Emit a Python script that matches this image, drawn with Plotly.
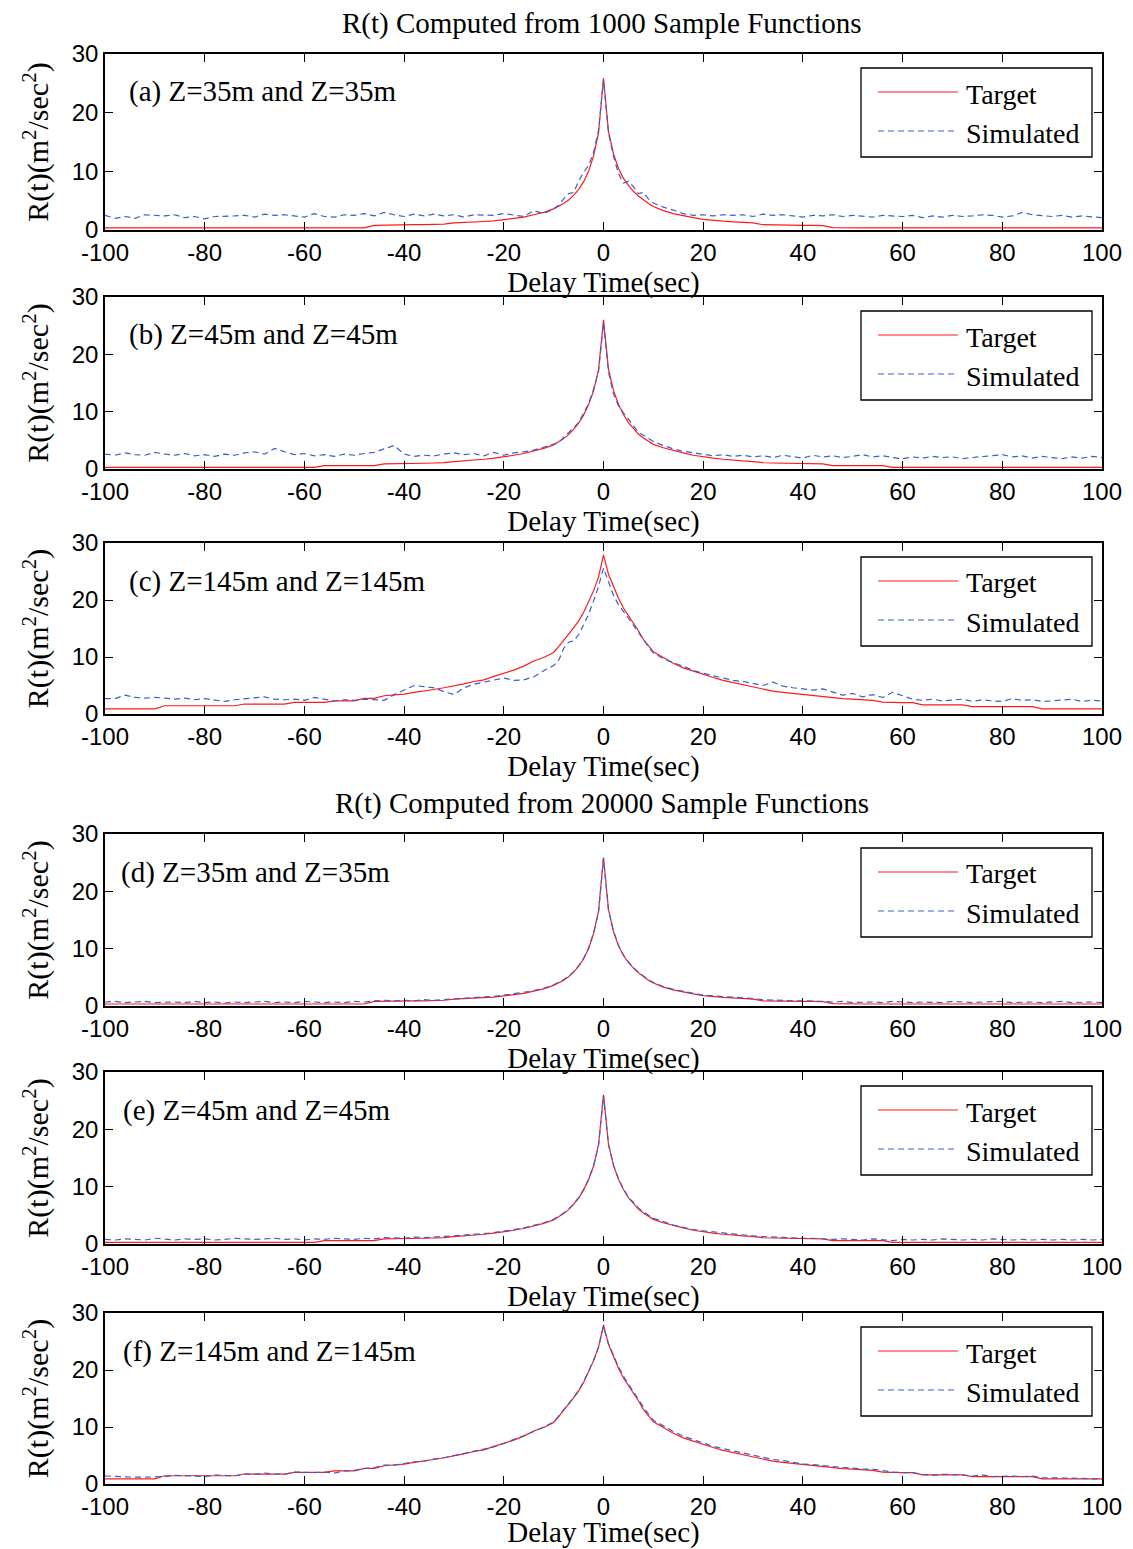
import plotly.graph_objects as go

W, H = 1133, 1549

# ---------------- data ----------------
t_left = list(range(-100, -11, 2))      # -100 ... -12
t_mid = list(range(-10, 11))            # -10 ... 10
t_right = list(range(12, 101, 2))       # 12 ... 100
delay_time = t_left + t_mid + t_right

target_35 = (
    [0.35] * 27 +
    [0.8, 0.85, 0.85, 0.85, 0.9, 0.9, 0.95, 1.0, 1.2, 1.25, 1.3, 1.45, 1.55, 1.8, 2.0, 2.2, 2.6, 3.0] +
    [3.6, 4.0, 4.5, 5.1, 5.9, 6.9, 8.2, 10.0, 12.6, 16.5, 25.9, 16.8, 13.0, 10.5, 8.8, 7.6, 6.6, 5.8, 5.1, 4.5, 4.0] +
    [3.3, 2.8, 2.4, 2.1, 1.8, 1.6, 1.5, 1.4, 1.3, 1.2, 0.9, 0.85, 0.85, 0.8, 0.8, 0.8, 0.75, 0.4] +
    [0.35] * 27
)

target_45 = (
    [0.3] * 22 + [0.6] * 6 +
    [0.9, 0.9, 0.95, 1.0, 1.0, 1.05, 1.1, 1.3, 1.4, 1.5, 1.7, 1.9, 2.1, 2.4, 2.7, 3.1, 3.6] +
    [4.2, 4.7, 5.3, 6.0, 6.9, 8.0, 9.4, 11.2, 13.6, 17.3, 26.0, 17.4, 13.7, 11.3, 9.5, 8.1, 7.0, 6.1, 5.4, 4.8, 4.3] +
    [3.7, 3.2, 2.8, 2.4, 2.1, 1.9, 1.7, 1.5, 1.4, 1.3, 1.1, 1.05, 1.0, 1.0, 0.95, 0.9, 0.9,
     0.6, 0.6, 0.6, 0.6, 0.6, 0.6] +
    [0.3] * 22
)

target_145 = (
    [0.9] * 6 + [1.45] * 8 + [1.75] * 5 + [2.05] * 4 + [2.3] * 3 + [2.75] * 2 +
    [3.2, 3.3, 3.5, 3.8, 4.0, 4.3, 4.6, 4.9, 5.3, 5.7, 6.0, 6.6, 7.1, 7.7, 8.4, 9.3, 9.9] +
    [10.8, 11.8, 13.0, 14.0, 15.1, 16.3, 17.8, 19.6, 21.6, 24.0, 27.9, 24.5, 22.3, 20.3, 18.6, 17.3, 16.0, 14.6, 13.1, 11.9, 10.9] +
    [9.9, 8.9, 8.1, 7.5, 6.9, 6.4, 5.9, 5.5, 5.1, 4.7, 4.3, 4.0, 3.8, 3.6] +
    [3.4, 3.2, 3.0, 2.9, 2.7, 2.6, 2.5, 2.4, 2.1, 2.0, 2.0, 2.0] +
    [1.6] * 5 + [1.3] * 7 + [0.9] * 7
)

sim_a = [
    2.5, 2.0, 2.3, 2.0, 2.6, 2.5, 2.4, 2.6, 2.1, 2.3,
    1.9, 2.3, 2.3, 2.4, 2.5, 2.2, 2.7, 2.5, 2.6, 2.4,
    2.2, 2.8, 2.3, 2.2, 2.6, 2.5, 2.8, 2.4, 3.0, 2.6,
    2.3, 2.7, 2.4, 2.7, 2.4, 2.6, 2.2, 2.6, 2.6, 2.5,
    2.8, 2.5, 2.3, 3.3, 2.8,
    3.6, 4.2, 5.3, 6.2, 6.4, 8.3, 9.8, 11.0, 13.2, 17.0, 25.6, 16.5, 12.6, 9.6, 8.0, 8.3, 7.4, 6.2, 6.4, 5.3, 4.6,
    3.9, 3.4, 2.8, 2.5, 2.6, 2.4, 2.6, 2.5, 2.6, 2.3,
    2.7, 2.5, 2.6, 2.4, 2.2, 2.5, 2.4, 2.6, 2.3, 2.5,
    2.4, 2.2, 2.5, 2.4, 2.3, 2.5, 2.1, 2.4, 2.2, 2.5,
    2.3, 2.4, 2.6, 2.5, 2.2, 2.4, 3.0, 2.6, 2.4, 2.3,
    2.5, 2.2, 2.4, 2.3, 2.1,
]

sim_b = [
    2.6, 2.4, 2.8, 2.5, 2.4, 2.9, 2.6, 2.4, 2.7, 2.3,
    2.5, 2.2, 2.6, 2.4, 2.8, 3.0, 2.6, 3.6, 3.0, 2.5,
    2.7, 2.3, 2.5, 2.2, 2.6, 2.4, 2.7, 2.9, 3.5, 4.1,
    2.6, 2.2, 2.4, 2.3, 2.6, 2.8, 2.5, 2.7, 2.3, 2.9,
    2.4, 2.8, 3.0, 3.3, 3.8,
    4.4, 4.6, 5.5, 6.3, 7.2, 8.1, 9.8, 11.4, 13.9, 17.0, 25.5, 16.9, 13.1, 11.0, 9.8, 8.6, 7.6, 6.4, 5.9, 5.4, 4.8,
    4.1, 3.5, 3.1, 2.8, 2.6, 2.3, 2.5, 2.2, 2.4, 2.1,
    2.3, 2.0, 2.4, 2.2, 1.9, 2.4, 2.1, 2.3, 2.0, 2.2,
    2.5, 2.1, 2.3, 2.0, 1.8, 2.1, 1.9, 2.2, 2.0, 2.1,
    1.8, 2.0, 2.2, 2.4, 2.5, 2.1, 2.3, 1.9, 2.2, 2.0,
    1.8, 2.1, 1.9, 2.2, 2.0,
]

sim_c = [
    2.7, 2.7, 3.3, 2.9, 2.8, 2.9, 2.8, 2.6, 2.8, 2.5,
    2.7, 2.4, 2.2, 2.5, 2.7, 2.8, 3.0, 2.6, 2.5, 2.6,
    2.4, 2.9, 2.6, 2.3, 2.5, 2.4, 2.6, 2.5, 2.4, 3.4,
    4.2, 5.0, 4.8, 4.6, 3.9, 3.4, 4.6, 5.2, 5.6, 6.0,
    6.3, 5.9, 6.0, 6.5, 7.6,
    8.5, 9.4, 11.5, 12.6, 12.8, 13.9, 15.6, 17.5, 19.8, 22.4, 25.6, 23.0, 20.8, 19.2, 17.9, 16.8, 15.6, 14.3, 13.0, 11.8, 10.7,
    9.7, 9.0, 8.4, 7.6, 7.1, 6.7, 6.3, 5.9, 5.7, 5.4,
    5.0, 5.6, 4.9, 4.6, 4.4, 4.2, 4.4, 3.8, 3.3, 3.6,
    3.0, 3.4, 2.9, 3.8, 3.2, 2.6, 2.4, 2.6, 2.3, 2.5,
    2.6, 2.2, 2.5, 2.3, 2.2, 2.7, 2.4, 2.5, 2.2, 2.3,
    2.5, 2.6, 2.2, 2.4, 2.3,
]

sim_d = [
    0.7, 0.8, 0.6, 0.7, 0.8, 0.6, 0.7, 0.7, 0.6, 0.8,
    0.6, 0.7, 0.5, 0.7, 0.6, 0.7, 0.8, 0.6, 0.7, 0.6,
    0.8, 0.7, 0.6, 0.7, 0.6, 0.8, 0.7, 0.9, 1.0, 0.9,
    1.0, 0.9, 1.1, 1.0, 1.1, 1.3, 1.3, 1.4, 1.5, 1.7,
    1.9, 2.1, 2.4, 2.7, 3.1,
    3.7, 4.1, 4.6, 5.2, 6.0, 7.0, 8.3, 10.1, 12.7, 16.4, 25.7, 16.7, 13.1, 10.6, 8.9, 7.7, 6.7, 5.9, 5.2, 4.6, 4.1,
    3.4, 2.9, 2.5, 2.2, 1.9, 1.8, 1.6, 1.5, 1.4, 1.3,
    1.1, 1.0, 1.0, 0.9, 0.9, 0.9, 0.8, 0.7, 0.8, 0.6,
    0.7, 0.7, 0.6, 0.8, 0.7, 0.6, 0.7, 0.7, 0.6, 0.8,
    0.7, 0.6, 0.7, 0.7, 0.8, 0.6, 0.7, 0.7, 0.6, 0.7,
    0.8, 0.6, 0.7, 0.7, 0.6,
]

sim_e = [
    0.8, 0.7, 0.9, 0.8, 0.7, 1.0, 0.8, 0.7, 0.9, 0.8,
    0.9, 0.7, 0.8, 1.0, 0.9, 0.8, 0.9, 1.0, 0.8, 0.9,
    0.7, 0.9, 0.8, 1.0, 0.9, 0.8, 1.0, 0.9, 1.1, 1.1,
    1.0, 1.2, 1.1, 1.2, 1.3, 1.4, 1.5, 1.6, 1.8, 2.0,
    2.2, 2.5, 2.8, 3.2, 3.7,
    4.3, 4.8, 5.4, 6.1, 7.0, 8.1, 9.5, 11.3, 13.6, 17.2, 25.9, 17.3, 13.8, 11.4, 9.6, 8.2, 7.2, 6.3, 5.6, 5.0, 4.5,
    3.9, 3.3, 2.9, 2.5, 2.3, 2.1, 1.9, 1.7, 1.5, 1.4,
    1.3, 1.2, 1.1, 1.1, 1.0, 1.0, 0.9, 0.8, 0.9, 0.8,
    0.7, 0.9, 0.8, 0.6, 0.8, 0.7, 0.8, 0.7, 0.9, 0.8,
    0.7, 0.8, 0.7, 0.9, 0.8, 0.7, 0.8, 0.7, 0.8, 0.7,
    0.8, 0.7, 0.8, 0.7, 0.8,
]

sim_f = [
    1.4, 1.3, 1.2, 1.2, 1.2, 1.2, 1.3, 1.5, 1.5, 1.4,
    1.3, 1.6, 1.5, 1.4, 1.8, 1.7, 1.9, 1.8, 1.7, 2.1,
    2.0, 2.0, 2.1, 1.9, 2.3, 2.4, 2.7, 2.9, 3.3, 3.3,
    3.6, 3.9, 4.0, 4.4, 4.6, 5.0, 5.3, 5.7, 6.1, 6.5,
    7.1, 7.8, 8.4, 9.2, 10.0,
    10.9, 11.9, 12.9, 14.1, 15.2, 16.4, 17.9, 19.7, 21.7, 24.0, 27.6, 24.6, 22.5, 20.6, 18.9, 17.5, 16.2, 14.9, 13.5, 12.3, 11.2,
    10.2, 9.2, 8.4, 7.8, 7.1, 6.6, 6.2, 5.8, 5.4, 5.0,
    4.6, 4.3, 4.1, 3.8, 3.5, 3.4, 3.2, 3.1, 2.9, 2.8,
    2.6, 2.6, 2.3, 2.1, 2.0, 2.0, 1.7, 1.5, 1.7, 1.7,
    1.6, 1.4, 1.6, 1.3, 1.4, 1.4, 1.3, 1.4, 1.1, 1.1,
    1.0, 1.1, 1.0, 0.9, 0.9,
]

panel_labels = [
    "(a) Z=35m and Z=35m", "(b) Z=45m and Z=45m", "(c) Z=145m and Z=145m",
    "(d) Z=35m and Z=35m", "(e) Z=45m and Z=45m", "(f) Z=145m and Z=145m",
]
targets = [target_35, target_45, target_145, target_35, target_45, target_145]
simulated = [sim_a, sim_b, sim_c, sim_d, sim_e, sim_f]
x_ticks = [-100, -80, -60, -40, -20, 0, 20, 40, 60, 80, 100]
x_tick_text = ["-100", "-80", "-60", "-40", "-20", "0", "20", "40", "60", "80", "100"]
y_ticks = [0, 10, 20, 30]
y_tick_text = ["0", "10", "20", "30"]
titles = ["R(t) Computed from 1000 Sample Functions", "R(t) Computed from 20000 Sample Functions"]

# ---------------- layout geometry (pixels) ----------------
panel_px = [(54, 230), (297, 469), (543, 714), (834, 1006), (1072, 1244), (1313, 1484)]
label_x_px = [127, 127, 127, 119, 121, 121]
X0, X1 = 105, 1102

def px(x):
    return x / W

def py(y):
    return 1 - y / H

SERIF = "Liberation Serif, Times New Roman, serif"
SANS = "Liberation Sans, Arial, sans-serif"
RED = "#ff1a1a"
BLUE = "#3a5fcd"

fig = go.Figure()
shapes = []
annotations = []

for i in range(6):
    n = "" if i == 0 else str(i + 1)
    fig.add_trace(go.Scatter(x=delay_time, y=targets[i], mode="lines",
                             line=dict(color=RED, width=1.2), name="Target",
                             xaxis="x" + n, yaxis="y" + n, showlegend=False))
    fig.add_trace(go.Scatter(x=delay_time, y=simulated[i], mode="lines",
                             line=dict(color=BLUE, width=1.2, dash="6px,4px"), name="Simulated",
                             xaxis="x" + n, yaxis="y" + n, showlegend=False))
    top, bot = panel_px[i]
    fig.layout["xaxis" + n] = dict(
        domain=[px(X0), px(X1)], range=[-100, 100], anchor="y" + n, automargin=False,
        tickvals=x_ticks, ticktext=x_tick_text, ticks="inside", ticklen=8, tickcolor="black", tickwidth=1,
        showline=True, linecolor="black", linewidth=1.5, mirror="ticks",
        showgrid=False, zeroline=False,
        tickfont=dict(family=SANS, size=24, color="black"),
        title=dict(text="Delay Time(sec)", font=dict(family=SERIF, size=29, color="black"), standoff=0),
    )
    fig.layout["yaxis" + n] = dict(
        domain=[py(bot), py(top)], range=[0, 30], anchor="x" + n, automargin=False,
        tickvals=y_ticks, ticktext=y_tick_text, ticks="inside", ticklen=8, tickcolor="black", tickwidth=1,
        showline=True, linecolor="black", linewidth=1.5, mirror="ticks",
        showgrid=False, zeroline=False,
        tickfont=dict(family=SANS, size=24, color="black"),
        title=dict(text="R(t)(m<sup>2</sup>/sec<sup>2</sup>)", font=dict(family=SERIF, size=30, color="black"), standoff=14),
    )
    # panel label
    annotations.append(dict(x=px(label_x_px[i]), y=py(top + 38), xref="paper", yref="paper",
                            text=panel_labels[i], showarrow=False, xanchor="left", yanchor="middle",
                            font=dict(family=SERIF, size=29, color="black")))
    # legend box
    lt = top + 14
    shapes.append(dict(type="rect", xref="paper", yref="paper",
                       x0=px(861), x1=px(1092), y0=py(lt), y1=py(lt + 89),
                       line=dict(color="black", width=1.3), fillcolor="white", layer="above"))
    shapes.append(dict(type="line", xref="paper", yref="paper",
                       x0=px(878), x1=px(958), y0=py(lt + 24), y1=py(lt + 24),
                       line=dict(color=RED, width=1.2), layer="above"))
    shapes.append(dict(type="line", xref="paper", yref="paper",
                       x0=px(878), x1=px(958), y0=py(lt + 63), y1=py(lt + 63),
                       line=dict(color=BLUE, width=1.2, dash="6px,4px"), layer="above"))
    annotations.append(dict(x=px(964), y=py(lt + 26), xref="paper", yref="paper", text="Target",
                            showarrow=False, xanchor="left", yanchor="middle",
                            font=dict(family=SERIF, size=28, color="black")))
    annotations.append(dict(x=px(964), y=py(lt + 65), xref="paper", yref="paper", text="Simulated",
                            showarrow=False, xanchor="left", yanchor="middle",
                            font=dict(family=SERIF, size=28, color="black")))

annotations.append(dict(x=px(602), y=py(24), xref="paper", yref="paper", text=titles[0],
                        showarrow=False, xanchor="center", yanchor="middle",
                        font=dict(family=SERIF, size=29, color="black")))
annotations.append(dict(x=px(602), y=py(804), xref="paper", yref="paper", text=titles[1],
                        showarrow=False, xanchor="center", yanchor="middle",
                        font=dict(family=SERIF, size=29, color="black")))

fig.update_layout(width=W, height=H, margin=dict(l=0, r=0, t=0, b=0, autoexpand=False),
                  paper_bgcolor="white", plot_bgcolor="white",
                  shapes=shapes, annotations=annotations, showlegend=False)

fig.write_html("out.html")
